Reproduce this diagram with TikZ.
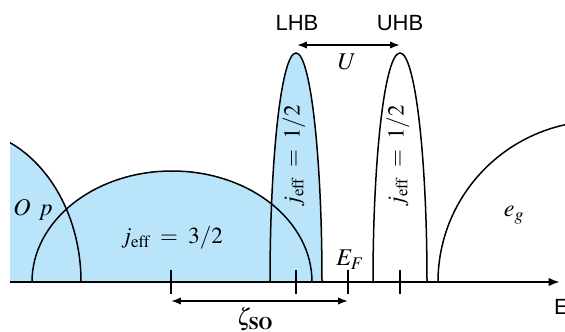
\documentclass[tikz,border=0pt]{standalone}
\usepackage{mathptmx}
\usepackage{fontspec}
\setsansfont{Liberation Sans}
\usepackage{tikz}
\usetikzlibrary{arrows.meta, positioning}
\definecolor{bandblue}{RGB}{185,228,250}
\tikzset{
  bandline/.style = {line width=1.5pt, black},
  bandfill/.style = {fill=bandblue},
  axisline/.style = {line width=2.2pt, -{Latex[length=4mm,width=3mm]}},
  tickline/.style = {line width=1.8pt},
  span/.style     = {line width=1.7pt, {Latex[length=3.5mm,width=2.6mm]}-{Latex[length=3.5mm,width=2.6mm]}},
  mlabel/.style   = {font=\fontsize{24}{28}\selectfont, inner sep=0pt},
  jlabel/.style   = {font=\fontsize{23}{27}\selectfont, inner sep=0pt},
  slabel/.style   = {font=\sffamily\fontsize{22}{26}\selectfont, inner sep=0pt},
}
\newcommand{\jeff}[1]{$j_{\rm eff}\;=\;#1$}

\begin{document}
\begin{tikzpicture}[x=1pt, y=1pt]
    \clip (0,0) rectangle (565,332);
    \fill[white] (0,0) rectangle (565,332);
    % filled bands
    \begin{scope}
      \clip (10,50) rectangle (565,332);
      \fill[bandfill] (-40,50) ellipse [x radius=121, y radius=153];
    \end{scope}
    \fill[bandfill] (32,50) arc [start angle=180, end angle=0, x radius=140, y radius=111] -- cycle;
    \fill[bandfill] (270,50) arc [start angle=180, end angle=0, x radius=26, y radius=229] -- cycle;
    % outlines
    \begin{scope}
      \clip (10,0) rectangle (565,332);
      \draw[bandline] (81,50) arc [start angle=0, end angle=90, x radius=121, y radius=153];
    \end{scope}
    \draw[bandline] (32,50) arc [start angle=180, end angle=0, x radius=140, y radius=111];
    \draw[bandline] (270,50) arc [start angle=180, end angle=0, x radius=26, y radius=229];
    \draw[bandline] (373,50) arc [start angle=180, end angle=0, x radius=27, y radius=229];
    \draw[bandline] (438,50) arc [start angle=180, end angle=90, x radius=162, y radius=161];
    % axis and ticks
    \coordinate (ax0) at (10,50);
    \coordinate (ax1) at (560,50);
    \draw[axisline] (ax0) -- (ax1);
    \foreach \tx/\tn in {171/so, 296/lhb, 348/ef, 400/uhb} {
      \coordinate (t-\tn) at (\tx,38);
      \draw[tickline] (t-\tn) -- ++(0,24);
    }
    % energy scales
    \coordinate (z-l) at (171,31);
    \coordinate (z-r) at (348,31);
    \draw[span] (z-l) -- (z-r);
    \coordinate (u-l) at (297,287);
    \coordinate (u-r) at (400,287);
    \draw[span] (u-l) -- (u-r);
    % labels
    \node[mlabel] (zeta) at (255,13) {$\zeta_{\mathbf{SO}}$};
    \node[mlabel] (hub) at (347,270) {$U$};
    \node[slabel] (lhb) at (297,309) {LHB};
    \node[slabel] (uhb) at (400,309) {UHB};
    \node[mlabel] (ef) at (350,72) {$E_F$};
    \node[mlabel] (op) at (33,122) {$O\;\,p$};
    \node[jlabel] (j32) at (172,94) {\jeff{3/2}};
    \node[jlabel, rotate=90] (j12l) at (294,176) {\jeff{1/2}};
    \node[jlabel, rotate=90] (j12u) at (398,176) {\jeff{1/2}};
    \node[mlabel] (eg) at (514,117) {$e_g$};
    \node[slabel, anchor=west] (en) at (554,25) {E};
\end{tikzpicture}
\end{document}
